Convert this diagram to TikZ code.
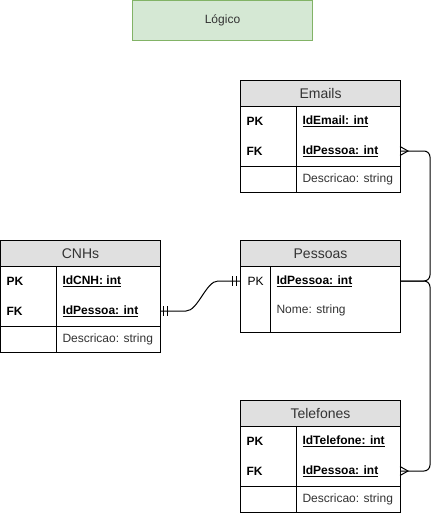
\documentclass[tikz,border=0pt]{standalone}
\usepackage{fontspec}
\setmainfont{Liberation Sans}
\definecolor{hdrgray}{RGB}{224,224,224}
\definecolor{greenfill}{RGB}{213,232,212}
\definecolor{greenline}{RGB}{130,179,102}
\definecolor{txtgray}{RGB}{51,51,51}
\begin{document}
\begin{tikzpicture}[x=1pt,y=-1pt,line width=1pt,
  tbl/.style={draw=black, fill=white, inner sep=0pt, minimum width=160pt, anchor=north west},
  hdr/.style={draw=black, fill=hdrgray, inner sep=0pt, minimum width=160pt, minimum height=26pt, anchor=north west, text=txtgray, font=\fontsize{14}{16}\selectfont},
  lbl/.style={anchor=west, inner sep=0pt, text=txtgray, font=\fontsize{12}{14}\selectfont},
  key/.style={anchor=west, inner sep=0pt, text=black, font=\fontsize{12}{14}\selectfont\bfseries},
  conn/.style={draw=black, line width=1pt},
]
\useasboundingbox (0,0) rectangle (439,516);

% title
\node[draw=greenline, fill=greenfill, minimum width=180pt, minimum height=40pt, anchor=north west, inner sep=0pt, text=txtgray, font=\fontsize{12}{14}\selectfont] (logico) at (132,0) {Lógico};

% Emails
\node[tbl, minimum height=112pt] (emails) at (240,80) {};
\node[hdr] (emailsH) at (240,80) {Emails};
\draw (296,106) -- (296,192);
\draw (240,166) -- (400,166);
\node[key] (emPK) at (246,121) {PK};
\node[key] (emFKl) at (246,151) {FK};
\node[key] (emId) at (302,121) {\underline{IdEmail: int}};
\node[key] (emIdP) at (302,151) {\underline{IdPessoa: int}};
\node[lbl] (emDesc) at (302,179) {Descricao: string};

% CNHs
\node[tbl, minimum height=112pt] (cnhs) at (0,240) {};
\node[hdr] (cnhsH) at (0,240) {CNHs};
\draw (56,266) -- (56,352);
\draw (0,326) -- (160,326);
\node[key] (cnPK) at (6,281) {PK};
\node[key] (cnFKl) at (6,311) {FK};
\node[key] (cnId) at (62,281) {\underline{IdCNH: int}};
\node[key] (cnIdP) at (62,311) {\underline{IdPessoa: int}};
\node[lbl] (cnDesc) at (62,339) {Descricao: string};

% Pessoas
\node[tbl, minimum height=92pt] (pessoas) at (240,240) {};
\node[hdr] (pessoasH) at (240,240) {Pessoas};
\draw (270,266) -- (270,332);
\node[lbl, text=black] (pePK) at (247,281) {PK};
\node[key] (peId) at (276,281) {\underline{IdPessoa: int}};
\node[lbl] (peNome) at (276,310) {Nome: string};

% Telefones
\node[tbl, minimum height=112pt] (tel) at (240,400) {};
\node[hdr] (telH) at (240,400) {Telefones};
\draw (296,426) -- (296,512);
\draw (240,486) -- (400,486);
\node[key] (tePK) at (246,441) {PK};
\node[key] (teFKl) at (246,471) {FK};
\node[key] (teId) at (302,441) {\underline{IdTelefone: int}};
\node[key] (teIdP) at (302,471) {\underline{IdPessoa: int}};
\node[lbl] (teDesc) at (302,499) {Descricao: string};

% connector anchor points
\coordinate (emR) at (400,151);
\coordinate (teR) at (400,471);
\coordinate (peR) at (400,281);
\coordinate (peL) at (240,281);
\coordinate (cnR) at (160,311);
\coordinate (bus) at (430,281);

% Emails -> Pessoas
\draw[conn, rounded corners=6pt] (emR) -| (bus) -- (peR);
\draw[conn] (400,146.5) -- (408,151) -- (400,155.5);
% Telefones -> Pessoas
\draw[conn, rounded corners=6pt] (teR) -| (bus) -- (peR);
\draw[conn] (400,466.5) -- (408,471) -- (400,475.5);
% CNHs -> Pessoas
\draw[conn] (cnR) -- (186,311) .. controls (198,311) and (206,281) .. (218,281) -- (peL);
\draw[conn] (163,306) -- (163,316) (167,306) -- (167,316);
\draw[conn] (232,276) -- (232,286) (236,276) -- (236,286);
\end{tikzpicture}
\end{document}
